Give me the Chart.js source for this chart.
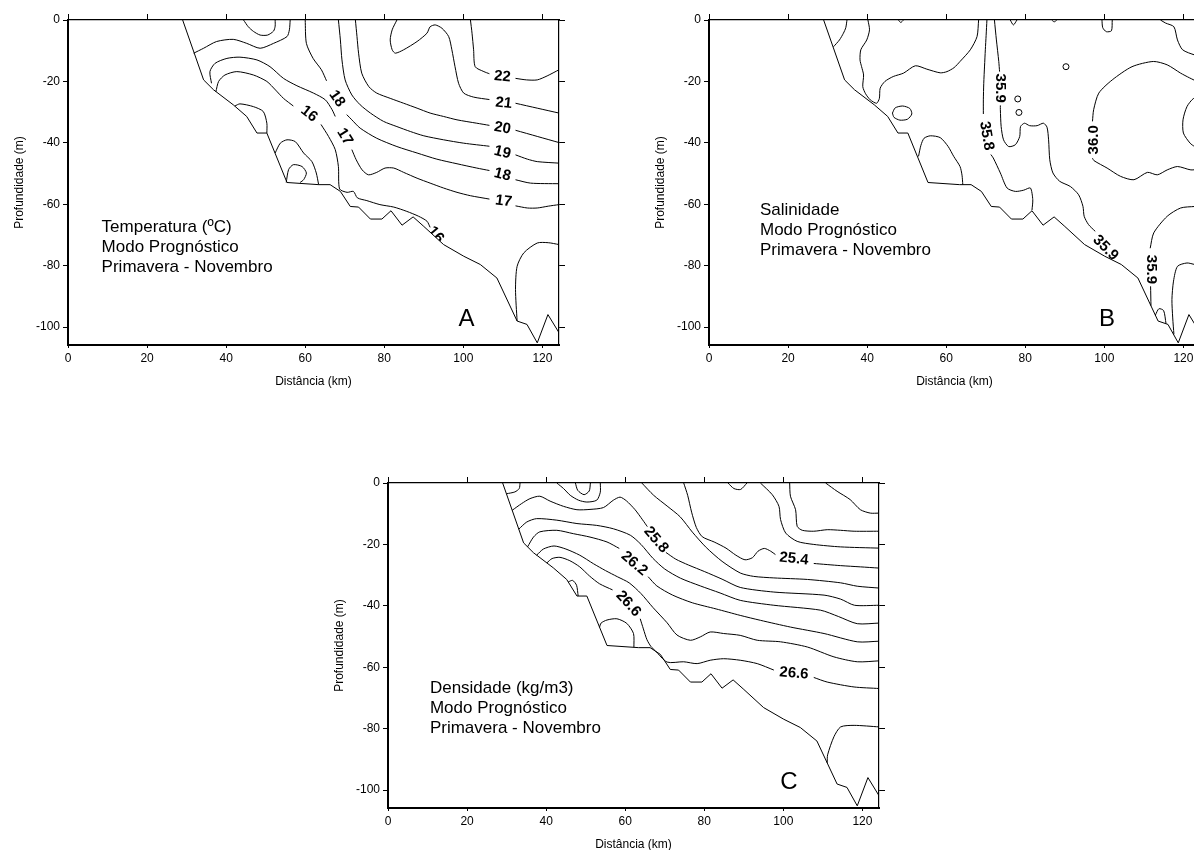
<!DOCTYPE html>
<html>
<head>
<meta charset="utf-8">
<script src="https://cdn.jsdelivr.net/npm/chart.js@4/dist/chart.umd.min.js"></script>
<style>
  html, body { margin: 0; padding: 0; background: #fff; }
  body { width: 1194px; height: 850px; overflow: hidden; position: relative; }
  canvas { position: absolute; }
  #chartA { left: 0; top: 0; }
  #chartB { left: 641px; top: 0; }
  #chartC { left: 320px; top: 463px; }
</style>
</head>
<body>
<canvas id="chartA" width="575" height="400"></canvas>
<canvas id="chartB" width="575" height="400"></canvas>
<canvas id="chartC" width="575" height="400"></canvas>
<script>
// axis ticks
const xTicks = [0, 20, 40, 60, 80, 100, 120];
const yTicks = [-100, -80, -60, -40, -20, 0];
const X_MAX = 124.2;
const Y_MIN = -105.8;

// sea floor profile (km, m), shared by the three sections
const seabed = [[29.0,0],[34.3,-19.5],[36.8,-22.7],[41.8,-27.6],[45.2,-31.4],[47.8,-36.8],[50.3,-36.8],[55.4,-52.9],
  [63.4,-53.6],[66.3,-53.6],[68.9,-55.8],[71.4,-60.7],[73.5,-60.9],[76.5,-64.8],[79.4,-64.8],[81.7,-62.1],[84.5,-66.8],
  [87.3,-64.1],[90.0,-67.2],[95.0,-73.1],[100.1,-76.9],[104.3,-79.6],[108.5,-84.0],[113.6,-98.0],[116.1,-99.1],
  [118.7,-105.1],[121.4,-95.9],[124.2,-101.8]];

// temperature isolines; null leaves room for the value label
const tempLines = [
  [[44.4,0],[45.6,-2.2],[46.9,-3.7],[48.6,-4.9],[50.5,-4.9],[52.0,-3.6],[52.4,-2.0],[52.4,0]],
  [[56.2,0],[56.0,-3.2],[55.4,-5.4],[52.0,-7.6],[48.6,-9.2],[45.2,-7.6],[41.8,-6.3],[37.6,-7.0],[34.3,-9.2],[31.8,-10.8]],
  [[36.3,-20.6],[35.9,-16.8],[37.2,-14.1],[40.2,-12.5],[43.5,-12.1],[47.8,-13.0],[51.1,-15.2],[54.5,-19.0],[57.9,-21.4],
   [62.1,-23.8],[65.1,-26.0],[66.8,-29.2],[67.6,-31.4],null,[71.8,-42.2],[72.9,-45.5],[74.4,-48.8],[76.0,-50.4],[78.1,-49.6],
   [80.2,-48.2],[82.4,-48.2],[84.9,-49.6],[88.3,-51.5],[91.6,-53.1],[95.0,-54.7],[98.4,-56.1],[101.8,-57.2],[106.6,-58.3],null,
   [113.2,-60.5],[116.2,-61.2],[118.7,-61.2],[121.5,-60.6],[124.2,-60.1]],
  [[37.4,-23.4],[38.1,-20.0],[39.7,-17.9],[42.7,-16.8],[46.9,-17.9],[50.3,-20.0],[52.5,-22.8],[54.5,-25.5],[57.0,-28.0],null,
   [64.0,-34.0],[65.9,-37.9],[67.6,-42.2],[68.4,-47.7],[68.7,-55.0],[70.6,-56.1],[72.2,-55.8],[73.2,-57.9],[75.6,-58.8],
   [78.9,-60.1],[82.4,-60.9],[85.7,-62.3],[88.7,-63.9],[90.8,-65.5],[91.6,-67.5]],
  [[60.0,0],[60.3,-7.6],[62.0,-12.5],[64.1,-16.2],[65.4,-19.8],null,[70.5,-30.8],[71.8,-32.5],[73.9,-35.2],[78.1,-38.5],
   [83.2,-41.2],[88.3,-43.3],[93.3,-45.3],[98.4,-46.8],[103.4,-48.2],[106.6,-49.0],null,[113.2,-52.0],[117.0,-53.1],[124.2,-53.3]],
  [[68.4,0],[68.9,-6.5],[69.3,-13.0],[70.1,-19.5],[71.8,-24.4],[73.9,-27.6],[76.5,-30.3],[79.8,-33.0],[83.2,-34.7],
   [86.6,-36.3],[90.0,-37.7],[95.0,-39.0],[100.1,-40.1],[106.6,-41.1],null,[113.2,-43.9],[116.2,-45.3],[118.7,-46.1],[124.2,-46.6]],
  [[72.7,0],[73.1,-5.4],[73.5,-10.8],[74.3,-17.3],[76.1,-21.7],[78.1,-23.8],[81.5,-25.5],[84.9,-27.1],[88.3,-28.7],
   [91.6,-30.3],[95.0,-31.4],[98.4,-32.5],[103.4,-33.6],[106.6,-34.3],null,[113.2,-35.9],[118.7,-37.9],[124.2,-39.9]],
  [[83.2,0],[82.0,-3.2],[81.5,-6.5],[82.0,-9.7],[82.8,-10.8],[84.9,-9.7],[88.3,-7.0],[90.8,-4.3],[91.6,-2.2],[92.9,-1.6],
   [94.6,-2.7],[96.3,-5.4],[97.1,-9.7],[97.9,-15.2],[98.8,-20.6],[100.1,-23.8],[102.6,-25.1],[106.6,-25.9],null,
   [113.2,-27.1],[118.7,-28.7],[124.2,-30.3]],
  [[101.8,0],[102.2,-4.3],[102.6,-9.7],[103.0,-15.2],[105.2,-16.8],[106.6,-17.5],null,[113.2,-19.0],[116.0,-19.5],
   [118.7,-19.5],[121.2,-18.2],[124.2,-16.2]],
  [[42.2,-28.0],[43.5,-27.3],[46.9,-28.2],[49.4,-29.8],[50.3,-33.6],[50.3,-36.8]],
  [[52.4,-43.3],[53.7,-40.1],[55.4,-39.0],[57.5,-39.6],[59.6,-43.3],[61.7,-46.1],[62.8,-49.8],[63.4,-53.6]],
  [[55.2,-52.9],[55.8,-48.7],[57.0,-47.1],[59.2,-47.7],[60.3,-49.8],[59.6,-52.0],[58.7,-52.9]],
  [[124.2,-73.1],[121.5,-72.5],[118.7,-72.6],[115.3,-75.8],[113.6,-80.2],[113.2,-87.7],[113.6,-98.0]]
];
// [km, m, value, angle in degrees]
const tempLabels = [
  [109.9,-18.4,'22',5],[110.2,-27.1,'21',6],[109.9,-35.2,'20',10],[109.9,-43.1,'19',14],[109.9,-50.4,'18',14],
  [110.2,-59.0,'17',8],[68.0,-25.6,'18',55],[61.0,-30.6,'16',38],[70.0,-38.0,'17',58],[93.0,-69.9,'16',50]
];

// salinity isolines
const salLines = [
  [[34.9,0],[34.6,-2.5],[34.0,-4.3],[33.0,-6.5],[31.5,-8.7]],
  [[40.2,0],[40.6,-3.2],[39.9,-6.5],[38.4,-9.7],[38.2,-13.0],[38.6,-15.2],[39.1,-17.9],[38.9,-21.7],[39.6,-24.0],
   [40.8,-26.0],[42.4,-27.1],[43.1,-25.5],[43.3,-22.2],[44.5,-20.0],[46.6,-18.4],[49.2,-17.3],[52.2,-14.9],[55.1,-16.0],
   [58.5,-17.2],[60.2,-16.8],[62.0,-15.5],[63.5,-13.5],[66.1,-9.7],[67.8,-5.4],[68.2,0]],
  [[46.4,-30.3],[47.1,-28.6],[49.0,-28.0],[50.8,-28.8],[51.3,-30.6],[50.2,-32.3],[48.3,-32.6],[46.8,-31.7],[46.4,-30.3]],
  [[53.0,-44.4],[53.6,-40.8],[54.4,-38.5],[56.0,-37.7],[58.5,-38.3],[60.5,-41.2],[61.9,-44.4],[63.5,-47.7],[64.0,-50.5],[64.2,-53.6]],
  [[70.3,0],[70.1,-5.0],[69.9,-9.7],[69.7,-15.0],[69.5,-20.6],[69.4,-26.0],[69.4,-30.6],null,[71.3,-43.8],[71.9,-44.9],
   [73.7,-49.8],[75.4,-54.7],[77.5,-55.8],[79.6,-55.4],[81.3,-54.7],[81.9,-58.5],[81.7,-61.9]],
  [[72.2,0],[72.7,-6.5],[73.3,-13.5],[73.5,-16.8],null,[73.7,-27.8],[73.7,-29.2],[73.9,-34.7],[74.5,-39.0],[75.8,-41.2],
   [77.5,-40.6],[78.6,-37.9],[78.8,-34.7],[79.8,-33.6],[81.1,-34.4],[83.0,-34.4],[84.6,-33.6],[85.5,-34.9],[85.9,-39.0],
   [86.2,-45.5],[87.0,-49.8],[88.7,-52.5],[91.4,-54.2],[93.5,-56.9],[94.6,-60.7],[94.9,-63.9],[96.0,-66.6],[97.7,-68.8]],
  [[124.2,-20.5],[121.5,-18.8],[119.3,-17.3],[115.9,-14.6],[112.4,-13.5],[107.0,-15.2],[102.0,-19.5],[98.6,-23.8],
   [97.3,-29.2],[97.0,-33.0],null,[97.0,-45.0],[97.4,-45.8],[100.7,-48.2],[104.1,-50.9],[107.5,-52.0],[110.9,-49.6],
   [113.4,-50.4],[115.9,-48.8],[118.5,-47.7],[121.9,-48.8],[124.2,-48.5]],
  [[114.2,0],[115.5,-1.0],[117.6,-2.2],[118.5,-6.5],[119.8,-9.7],[122.9,-11.4],[124.2,-11.6]],
  [[124.2,-25.0],[122.5,-25.6],[120.9,-28.2],[119.9,-32.5],[120.0,-36.8],[121.7,-40.1],[122.9,-41.2],[124.2,-41.5]],
  [[99.4,0],[99.6,-2.5],[100.5,-3.8],[101.8,-3.5],[102.0,0]],
  [[76.2,0],[77.0,-1.6],[77.9,0]],
  [[86.7,0],[87.3,-0.6],[88.0,0]],
  [[47.9,0],[48.5,-0.8],[49.2,0]],
  [[124.2,-60.6],[122.9,-60.7],[119.3,-61.2],[115.9,-63.9],[112.5,-69.3],[111.6,-74.3],null,[111.7,-86.7],[111.8,-93.0]],
  [[117.6,-102.3],[117.3,-97.0],[117.1,-91.0],[117.5,-85.0],[118.5,-80.2],[120.9,-79.1],[122.9,-79.6],[124.2,-79.8]],
  [[112.9,-96.1],[113.8,-94.0],[115.0,-94.6],[115.6,-98.8]]
];
const salDots = [[90.3,-15.2],[78.1,-25.7],[78.4,-30.1]];
const salLabels = [
  [73.7,-22.2,'35.9',90],[70.2,-37.7,'35.8',80],[97.3,-39.0,'36.0',-90],[111.8,-81.2,'35.9',90],[100.3,-74.2,'35.9',45]
];

// density isolines
const densLines = [
  [[33.4,0],[33.2,-1.8],[32.1,-2.9],[30.0,-3.5]],
  [[42.7,0],[44.4,-1.8],[46.1,-4.0],[48.2,-5.6],[50.3,-6.2],[52.8,-5.6],[53.7,-3.0],[53.7,0]],
  [[47.4,0],[48.0,-2.4],[49.6,-3.8],[50.9,-2.6],[51.2,0]],
  [[110.7,0],[113.6,-2.7],[116.9,-5.4],[119.5,-8.7],[122.0,-9.8],[124.2,-9.8]],
  [[101.6,0],[101.8,-4.3],[103.1,-8.7],[103.5,-14.1],[104.8,-15.4],[107.7,-15.7],[111.1,-15.2],[114.5,-15.4],[117.9,-15.7],[124.2,-15.7]],
  [[94.2,0],[97.2,-3.8],[98.9,-7.6],[99.3,-11.9],[100.6,-16.3],[103.5,-19.0],[107.7,-20.0],[114.5,-20.8],[124.2,-21.2]],
  [[74.8,0],[75.8,-4.0],[76.8,-9.5],[78.0,-14.5],[79.5,-17.5],[82.5,-19.2],[85.5,-21.2],[88.0,-23.5],[90.3,-25.0],
   [92.2,-24.3],[93.6,-22.2],[95.2,-21.3],[96.8,-22.2],[98.0,-23.3],null,[107.7,-26.2],[114.5,-26.9],[119.5,-27.3],[124.2,-27.7]],
  [[64.2,0],[67.2,-4.0],[70.6,-7.5],[73.9,-11.0],[77.0,-16.0],[80.5,-21.0],[84.5,-25.5],[89.1,-29.3],[92.5,-30.4],
   [97.6,-30.9],[106.1,-31.4],[114.5,-32.5],[118.7,-33.6],[124.2,-34.2]],
  [[31.4,-8.9],[33.8,-6.7],[35.9,-5.1],[38.4,-4.3],[41.0,-5.9],[44.4,-7.6],[47.8,-8.7],[51.1,-8.6],[54.5,-8.0],[57.0,-5.6],
   [58.7,-4.6],[60.3,-5.8],[62.5,-8.7],[64.4,-12.0],[65.6,-14.2],null,[70.3,-22.6],[72.8,-24.8],[76.0,-26.7],[80.0,-28.8],
   [84.5,-31.3],[89.1,-34.0],[97.6,-35.5],[110.3,-36.5],[114.5,-37.8],[118.0,-39.8],[124.2,-39.8]],
  [[33.1,-15.0],[35.1,-12.7],[37.6,-11.6],[42.7,-12.1],[47.8,-13.2],[52.8,-13.8],[57.0,-14.9],[61.3,-17.0],[64.0,-20.0],
   [67.0,-24.5],[70.0,-28.0],[74.0,-31.0],[79.0,-33.5],[84.0,-35.8],[89.1,-38.2],[97.6,-39.8],[109.4,-41.4],[114.0,-43.5],
   [118.7,-45.8],[124.2,-45.6]],
  [[35.3,-20.8],[36.8,-17.6],[38.4,-15.9],[42.7,-15.4],[46.9,-16.5],[51.1,-17.6],[55.4,-19.2],[58.5,-21.3],null,[65.8,-30.5],
   [68.0,-33.5],[72.0,-36.5],[77.0,-39.0],[83.0,-41.0],[89.1,-43.1],[94.2,-44.7],[101.8,-46.9],[110.3,-49.0],[118.7,-51.7],[124.2,-51.5]],
  [[37.6,-23.5],[39.3,-21.5],[42.0,-20.5],[45.0,-21.5],[48.5,-23.5],[52.0,-26.3],[55.0,-28.5],[58.0,-30.5],[61.0,-32.5],
   [64.0,-36.0],[67.0,-40.5],[70.6,-45.5],[73.1,-49.5],[76.5,-51.2],[79.0,-50.1],[81.5,-48.5],[84.9,-49.0],[89.1,-49.6],
   [93.4,-51.2],[99.3,-51.7],[106.1,-53.4],[112.8,-56.6],[118.7,-58.2],[124.2,-57.9]],
  [[40.2,-26.0],[41.5,-24.6],[43.5,-24.2],[46.0,-25.3],[48.5,-27.3],[51.0,-30.3],[53.5,-32.8],[56.8,-34.8],null,[63.8,-44.2],
   [64.6,-47.5],[65.5,-51.0],[66.5,-53.2],[67.6,-54.6],[70.6,-58.3],[74.8,-58.2],[78.2,-58.8],[81.5,-57.7],[84.9,-57.2],
   [89.1,-57.7],[93.4,-58.8],[97.6,-60.9],null,[107.7,-63.3],[111.1,-64.8],[117.9,-66.4],[124.2,-66.9]],
  [[53.5,-47.0],[53.9,-45.6],[55.4,-44.6],[57.9,-44.2],[60.4,-45.7],[62.1,-49.0],[62.2,-53.5]],
  [[45.6,-32.2],[46.7,-31.7],[47.7,-33.3],[48.1,-36.8]],
  [[86.0,0],[87.5,-1.8],[89.2,-2.1],[90.8,0]],
  [[111.1,-91.1],[111.2,-88.5],[112.8,-82.6],[114.5,-79.4],[117.9,-78.9],[124.2,-79.4]]
];
const densLabels = [
  [67.8,-18.5,'25.8',50],[62.3,-26.2,'26.2',40],[60.8,-39.3,'26.6',48],[102.7,-24.7,'25.4',6],[102.7,-62.0,'26.6',5]
];

const tempNotes = ['Temperatura (ºC)', 'Modo Prognóstico', 'Primavera - Novembro'];
const salNotes = ['Salinidade', 'Modo Prognóstico', 'Primavera - Novembro'];
const densNotes = ['Densidade (kg/m3)', 'Modo Prognóstico', 'Primavera - Novembro'];

Chart.defaults.font.family = '"Liberation Sans", Arial, sans-serif';
Chart.defaults.font.size = 12;
Chart.defaults.color = '#000';

function toPoints(line) {
  let lastX = 0;
  return line.map(p => {
    if (p === null) return { x: lastX, y: null };
    lastX = p[0];
    return { x: p[0], y: p[1] };
  });
}

// value labels go under the datasets so the white sea floor can cut them,
// the panel notes go on top
const contourText = {
  id: 'contourText',
  beforeDatasetsDraw(chart, args, opts) {
    const { ctx, scales: { x, y } } = chart;
    ctx.save();
    ctx.font = 'bold 15px "Liberation Sans", Arial, sans-serif';
    ctx.fillStyle = '#000';
    ctx.textAlign = 'center';
    ctx.textBaseline = 'middle';
    for (const [vx, vy, text, angle] of opts.labels) {
      ctx.save();
      ctx.translate(x.getPixelForValue(vx), y.getPixelForValue(vy));
      ctx.rotate(angle * Math.PI / 180);
      ctx.fillText(text, 0, 0);
      ctx.restore();
    }
    ctx.restore();
  },
  afterDatasetsDraw(chart, args, opts) {
    const { ctx, scales: { x, y } } = chart;
    ctx.save();
    ctx.fillStyle = '#000';
    ctx.textBaseline = 'middle';
    ctx.textAlign = 'left';
    ctx.font = '17px "Liberation Sans", Arial, sans-serif';
    const nx = x.getPixelForValue(opts.noteAt[0]);
    const ny = y.getPixelForValue(opts.noteAt[1]);
    opts.notes.forEach((t, i) => ctx.fillText(t, nx, ny + i * 20));
    ctx.textAlign = 'center';
    ctx.font = '24px "Liberation Sans", Arial, sans-serif';
    ctx.fillText(opts.letter, x.getPixelForValue(opts.letterAt[0]), y.getPixelForValue(opts.letterAt[1]));
    ctx.restore();
  }
};

function buildDatasets(lines, dots) {
  const sets = lines.map(l => ({
    data: toPoints(l),
    borderColor: '#000',
    borderWidth: 1,
    tension: 0.25,
    pointRadius: 0,
    fill: false
  }));
  if (dots) {
    sets.push({
      data: toPoints(dots),
      showLine: false,
      pointRadius: 3,
      pointBorderWidth: 1,
      pointBorderColor: '#000',
      pointBackgroundColor: '#fff'
    });
  }
  sets.push({
    data: toPoints(seabed),
    borderColor: '#000',
    borderWidth: 1,
    tension: 0,
    pointRadius: 0,
    fill: 'start',
    backgroundColor: '#fff'
  });
  return sets;
}

// frame axes: borders sit above the datasets so the sea floor fill can't hide them
function frameAxis(position, min, max, ticks, size, extra) {
  const horizontal = position === 'top' || position === 'bottom';
  return Object.assign({
    type: 'linear',
    position,
    min,
    max,
    afterBuildTicks: s => { s.ticks = ticks.map(v => ({ value: v })); },
    afterFit: s => { if (horizontal) s.height = size; else s.width = size; },
    ticks: { display: false },
    grid: { drawOnChartArea: false, tickLength: 6, color: '#000', lineWidth: 1 },
    border: { color: '#000', width: 1.2, z: 1 }
  }, extra);
}

function makeChart(id, lines, labels, notes, noteAt, letter, letterAt, dots) {
  return new Chart(document.getElementById(id), {
    type: 'line',
    data: { datasets: buildDatasets(lines, dots) },
    plugins: [contourText],
    options: {
      responsive: false,
      animation: false,
      events: [],
      layout: { padding: 0 },
      plugins: {
        legend: { display: false },
        tooltip: { enabled: false },
        contourText: { labels, notes, noteAt, letter, letterAt }
      },
      scales: {
        x: frameAxis('bottom', 0, X_MAX, xTicks, 55, {
          ticks: { display: true, padding: 3, maxRotation: 0, autoSkip: false },
          grid: { drawOnChartArea: false, tickLength: 3, color: '#000' },
          border: { color: '#000', width: 2, z: 1 },
          title: { display: true, text: 'Distância (km)', padding: { top: 0, bottom: 11 } }
        }),
        xTop: frameAxis('top', 0, X_MAX, xTicks, 20),
        y: frameAxis('left', Y_MIN, 0, yTicks, 68, {
          ticks: { display: true, padding: 3, autoSkip: false },
          grid: { drawOnChartArea: false, tickLength: 5, color: '#000' },
          border: { color: '#000', width: 2, z: 1 },
          title: { display: true, text: 'Profundidade (m)', padding: { top: 12, bottom: 0 } }
        }),
        yRight: frameAxis('right', Y_MIN, 0, yTicks, 16)
      }
    }
  });
}

makeChart('chartA', tempLines, tempLabels, tempNotes, [8.5, -67.4], 'A', [100.8, -97.5]);
makeChart('chartB', salLines, salLabels, salNotes, [12.9, -62.0], 'B', [100.7, -97.5], salDots);
makeChart('chartC', densLines, densLabels, densNotes, [10.6, -66.9], 'C', [101.4, -97.3]);
</script>
</body>
</html>
